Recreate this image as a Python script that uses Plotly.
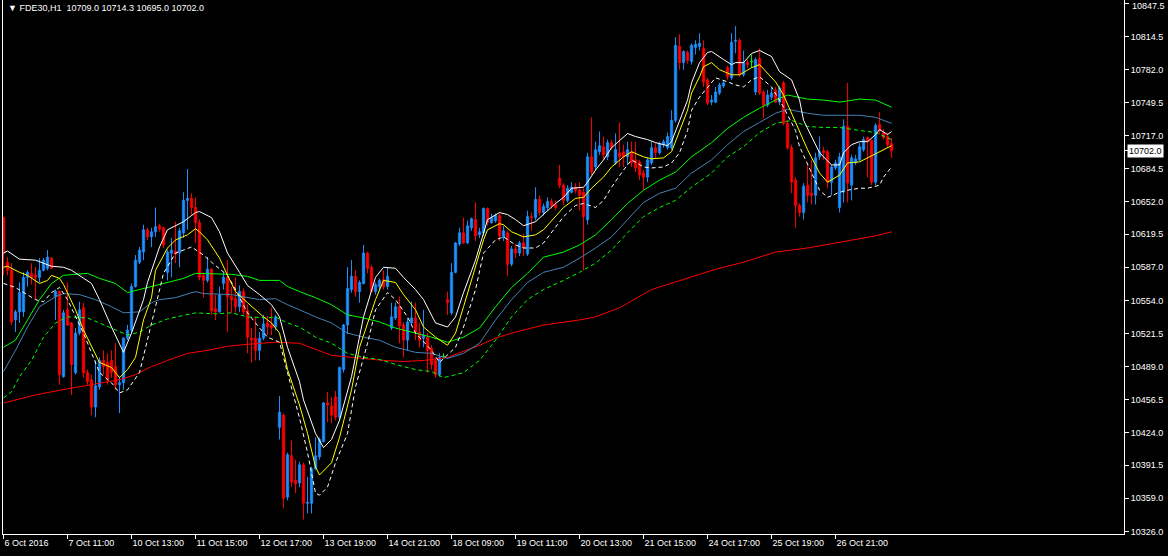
import plotly.graph_objects as go

SYMBOL = "FDE30,H1"
LAST_BAR_TEXT = "10709.0 10714.3 10695.0 10702.0"
LAST_PRICE = 10702.0

TICK_BARS = [0, 16, 32, 48, 64, 80, 96, 112, 128, 144, 160, 176, 192, 208]
TIME_LABELS = ["6 Oct 2016", "7 Oct 11:00", "10 Oct 13:00", "11 Oct 15:00", "12 Oct 17:00",
               "13 Oct 19:00", "14 Oct 21:00", "18 Oct 09:00", "19 Oct 11:00", "20 Oct 13:00",
               "21 Oct 15:00", "24 Oct 17:00", "25 Oct 19:00", "26 Oct 21:00"]
PRICE_TICKS = [10326.0, 10359.0, 10391.5, 10424.0, 10456.5, 10489.0, 10521.5, 10554.0, 10587.0,
               10619.5, 10652.0, 10684.5, 10717.0, 10749.5, 10782.0, 10814.5, 10847.5]

OPEN = [10636,10592,10584,10535,10543,10543,10577,10581,10579,10577,
        10584,10586,10596,10558,10563,10479,10545,10532,10483,10522,
        10547,10483,10476,10449,10469,10495,10493,10495,10489,10471,
        10473,10517,10525,10568,10592,10602,10624,10617,10622,10628,
        10626,10582,10601,10603,10601,10621,10653,10655,10646,10631,
        10579,10574,10585,10546,10543,10571,10577,10558,10556,10548,
        10563,10544,10517,10517,10505,10517,10532,10530,10528,10429,
        10441,10360,10401,10377,10374,10392,10354,10354,10388,10400,
        10415,10453,10450,10459,10439,10486,10530,10565,10578,10563,
        10571,10601,10587,10563,10568,10575,10568,10527,10537,10548,
        10530,10515,10532,10537,10523,10517,10518,10507,10495,10481,
        10499,10555,10542,10582,10610,10621,10611,10626,10634,10619,
        10621,10645,10631,10633,10638,10616,10621,10590,10605,10601,
        10611,10600,10637,10636,10654,10641,10646,10652,10649,10675,
        10668,10653,10661,10666,10663,10661,10634,10696,10686,10701,
        10706,10696,10710,10690,10700,10701,10696,10701,10693,10691,
        10680,10676,10690,10705,10700,10708,10705,10705,10732,10805,
        10789,10799,10790,10804,10805,10803,10772,10750,10750,10759,
        10766,10784,10774,10810,10811,10777,10789,10790,10760,10793,
        10760,10747,10755,10762,10750,10769,10729,10705,10673,10648,
        10641,10668,10660,10658,10696,10702,10701,10671,10685,10646,
        10661,10726,10668,10690,10693,10703,10715,10712,10671,10728,
        10720,10716,10709.0]

HIGH = [10637,10597,10591,10545,10572,10582,10584,10591,10587,10596,
        10596,10604,10597,10565,10564,10545,10572,10533,10527,10553,
        10552,10486,10481,10495,10498,10505,10502,10505,10512,10479,
        10518,10530,10571,10599,10607,10629,10626,10626,10646,10630,
        10627,10604,10616,10632,10626,10661,10684,10660,10656,10634,
        10582,10597,10586,10560,10568,10582,10594,10568,10577,10569,
        10566,10550,10527,10538,10523,10540,10539,10547,10540,10460,
        10443,10404,10416,10397,10395,10394,10380,10390,10419,10419,
        10454,10464,10459,10465,10489,10531,10587,10594,10584,10574,
        10609,10602,10589,10572,10576,10584,10587,10552,10552,10558,
        10533,10537,10553,10552,10532,10545,10522,10510,10498,10502,
        10502,10563,10591,10612,10626,10636,10633,10636,10651,10626,
        10646,10646,10640,10640,10640,10628,10623,10608,10610,10613,
        10620,10643,10641,10666,10658,10650,10656,10655,10653,10688,
        10670,10668,10671,10670,10671,10665,10700,10735,10711,10721,
        10716,10713,10713,10719,10730,10708,10711,10711,10711,10693,
        10683,10695,10711,10710,10711,10713,10720,10742,10814,10817,
        10801,10801,10808,10811,10818,10811,10774,10757,10765,10769,
        10772,10786,10818,10825,10813,10801,10792,10797,10794,10803,
        10762,10762,10764,10765,10766,10771,10732,10708,10676,10650,
        10670,10688,10693,10700,10716,10706,10703,10688,10693,10700,
        10733,10769,10698,10698,10710,10716,10716,10713,10729,10740,
        10723,10720,10714.3]

LOW = [10579,10579,10530,10523,10532,10538,10568,10570,10555,10572,
       10583,10584,10585,10535,10471,10478,10529,10461,10481,10520,
       10478,10471,10441,10439,10466,10481,10471,10478,10466,10443,
       10466,10515,10522,10567,10590,10594,10614,10607,10617,10622,
       10606,10574,10577,10591,10587,10616,10624,10639,10611,10574,
       10557,10572,10540,10535,10542,10565,10523,10542,10542,10543,
       10540,10502,10493,10495,10495,10515,10520,10520,10525,10417,
       10349,10357,10370,10364,10370,10338,10344,10344,10387,10397,
       10414,10434,10433,10436,10436,10483,10521,10562,10558,10552,
       10570,10581,10562,10560,10565,10565,10565,10525,10535,10512,
       10498,10505,10531,10515,10508,10508,10483,10486,10478,10479,
       10497,10540,10540,10581,10608,10610,10610,10623,10613,10616,
       10618,10628,10630,10631,10613,10613,10578,10588,10596,10598,
       10598,10598,10623,10633,10638,10638,10643,10645,10643,10665,
       10648,10651,10660,10660,10643,10584,10629,10678,10683,10698,
       10693,10693,10703,10688,10686,10686,10688,10686,10681,10673,
       10663,10671,10688,10695,10698,10705,10703,10703,10730,10782,
       10782,10788,10787,10797,10801,10765,10747,10747,10749,10757,
       10764,10772,10772,10798,10775,10775,10784,10784,10757,10757,
       10734,10745,10752,10749,10747,10727,10703,10660,10626,10637,
       10634,10651,10649,10649,10693,10693,10665,10658,10683,10641,
       10651,10651,10653,10688,10691,10701,10676,10668,10668,10718,
       10713,10705,10695.0]

CLOSE = [10601,10584,10533,10543,10562,10577,10582,10577,10577,10584,
         10594,10597,10586,10563,10481,10542,10530,10491,10522,10545,
         10483,10474,10449,10470,10495,10489,10476,10483,10471,10473,
         10517,10525,10568,10594,10604,10624,10617,10622,10627,10625,
         10609,10602,10604,10600,10623,10653,10655,10646,10631,10577,
         10574,10585,10544,10543,10560,10577,10558,10555,10548,10563,
         10543,10518,10515,10505,10517,10531,10528,10527,10538,10444,
         10359,10402,10375,10373,10392,10354,10355,10388,10401,10417,
         10453,10451,10441,10439,10488,10530,10566,10578,10563,10572,
         10601,10586,10563,10570,10574,10568,10578,10538,10548,10529,
         10515,10533,10537,10523,10515,10520,10505,10491,10481,10498,
         10499,10552,10582,10611,10621,10611,10628,10635,10618,10622,
         10645,10631,10636,10638,10618,10623,10590,10605,10601,10611,
         10606,10637,10636,10654,10641,10647,10652,10648,10646,10668,
         10653,10665,10666,10663,10658,10637,10696,10681,10703,10707,
         10698,10710,10705,10703,10696,10696,10703,10690,10685,10678,
         10676,10693,10705,10700,10709,10711,10716,10732,10806,10789,
         10800,10791,10806,10807,10808,10770,10749,10752,10760,10767,
         10769,10775,10809,10811,10777,10789,10787,10790,10792,10759,
         10747,10757,10759,10750,10764,10729,10705,10671,10648,10641,
         10667,10658,10658,10695,10701,10700,10671,10686,10690,10696,
         10726,10670,10695,10694,10706,10713,10711,10671,10727,10722,
         10715,10708,10702.0]

# indicator lines: (bar index, price)
YELLOW_MA = [(0,10587),(1,10588),(4,10582),(6,10579),(9,10571),(11,10574),(12,10579),(14,10576),(15,10570),(16,10562),
             (18,10545),(20,10525),(23,10502),(24,10493),(27,10488),(29,10478),(31,10486),(33,10498),(35,10535),(37,10557),
             (38,10584),(41,10606),(43,10614),(46,10619),(48,10625),(49,10622),(51,10614),(54,10596),(56,10579),(58,10563),
             (61,10552),(65,10538),(67,10532),(69,10522),(71,10486),(74,10451),(76,10423),(78,10390),(79,10382),(82,10394),
             (84,10419),(87,10466),(89,10508),(93,10555),(95,10574),(98,10572),(100,10560),(103,10545),(105,10528),(108,10518),
             (111,10510),(113,10522),(115,10548),(118,10587),(120,10614),(121,10624),(124,10630),(125,10629),(127,10622),(130,10617),
             (133,10619),(135,10624),(138,10637),(140,10646),(143,10655),(145,10656),(147,10665),(150,10676),(152,10686),(155,10696),
             (157,10701),(160,10696),(162,10694),(165,10695),(167,10701),(169,10722),(171,10742),(172,10759),(174,10775),(175,10785),
             (177,10789),(179,10782),(182,10777),(184,10777),(187,10784),(189,10787),(191,10779),(193,10770),(195,10757),(197,10739),
             (199,10720),(201,10703),(204,10680),(206,10671),(209,10678),(211,10690),(214,10691),(216,10695),(219,10701),(220,10703),
             (222,10707)]

WHITE_UPPER = [(0,10601),(1,10603),(4,10595),(8,10594),(12,10588),(15,10587),(17,10584),(19,10579),(22,10571),(24,10555),
               (27,10528),(30,10503),(32,10522),(35,10555),(36,10572),(39,10607),(41,10624),(45,10632),(48,10641),(49,10642),
               (52,10636),(54,10622),(56,10601),(59,10582),(61,10569),(64,10560),(67,10550),(69,10538),(71,10508),(74,10474),
               (75,10456),(78,10423),(80,10409),(82,10417),(84,10436),(87,10479),(90,10538),(93,10577),(95,10587),(98,10586),
               (100,10577),(103,10565),(105,10555),(108,10532),(111,10528),(113,10538),(115,10562),(118,10594),(120,10621),(121,10634),
               (124,10641),(126,10639),(128,10634),(130,10628),(133,10632),(135,10639),(138,10650),(140,10656),(142,10665),(145,10666),
               (146,10671),(148,10683),(150,10693),(152,10705),(155,10716),(156,10719),(158,10716),(161,10713),(163,10710),(166,10707),
               (167,10711),(169,10732),(171,10752),(172,10769),(174,10789),(176,10799),(177,10800),(180,10792),(182,10787),(183,10789),
               (185,10789),(187,10798),(189,10801),(192,10795),(194,10780),(197,10772),(199,10752),(200,10732),(202,10716),(204,10700),
               (207,10688),(209,10688),(210,10700),(212,10708),(214,10711),(216,10711),(218,10718),(219,10723),(221,10718),(222,10721)]

WHITE_LOWER = [(0,10571),(3,10567),(8,10555),(10,10553),(12,10562),(14,10567),(16,10555),(20,10522),(24,10483),(27,10473),
               (29,10463),(31,10466),(34,10483),(36,10515),(37,10529),(38,10548),(40,10581),(43,10601),(47,10607),(50,10599),
               (52,10592),(56,10579),(58,10565),(61,10542),(64,10527),(66,10518),(69,10513),(71,10483),(74,10438),(76,10404),
               (78,10364),(79,10362),(81,10370),(83,10394),(86,10423),(88,10469),(91,10512),(93,10545),(96,10562),(98,10555),
               (101,10538),(103,10522),(107,10505),(109,10493),(110,10497),(113,10508),(115,10528),(118,10565),(120,10601),(123,10614),
               (125,10617),(128,10609),(130,10606),(133,10606),(135,10611),(138,10627),(140,10637),(143,10648),(145,10650),(148,10646),
               (150,10653),(152,10666),(155,10683),(157,10693),(160,10686),(162,10685),(165,10686),(167,10690),(169,10700),(171,10722),
               (172,10742),(174,10755),(176,10765),(178,10774),(181,10770),(183,10767),(185,10765),(187,10772),(189,10775),(192,10765),
               (195,10745),(198,10722),(199,10706),(202,10680),(204,10663),(206,10656),(209,10661),(211,10663),(214,10665),(216,10665),
               (219,10668),(220,10676),(222,10686)]

GREEN_UPPER = [(0,10508),(3,10515),(6,10535),(9,10555),(12,10571),(15,10579),(21,10581),(24,10576),(28,10571),(31,10562),
               (34,10565),(37,10568),(41,10572),(45,10576),(48,10581),(57,10580),(61,10578),(64,10574),(69,10574),(71,10568),
               (74,10563),(78,10557),(82,10550),(86,10540),(90,10537),(94,10533),(98,10527),(103,10522),(107,10518),(111,10513),
               (115,10518),(119,10527),(123,10548),(127,10567),(131,10581),(135,10597),(140,10602),(144,10609),(148,10619),(152,10634),
               (156,10650),(160,10663),(164,10673),(168,10681),(172,10696),(177,10710),(181,10724),(185,10735),(189,10744),(193,10752),
               (196,10757),(201,10753),(205,10752),(209,10750),(214,10753),(218,10752),(222,10745)]

BLUE_MID = [(0,10484),(3,10505),(6,10528),(9,10548),(13,10558),(15,10561),(19,10560),(23,10555),(27,10548),(30,10542),
            (34,10543),(37,10552),(39,10555),(43,10557),(48,10563),(50,10561),(57,10560),(64,10555),(68,10556),(71,10550),
            (74,10545),(78,10538),(82,10532),(86,10522),(90,10518),(94,10515),(98,10508),(103,10503),(107,10502),(111,10497),
            (115,10502),(119,10512),(123,10535),(127,10555),(131,10572),(135,10582),(140,10587),(144,10596),(148,10606),(152,10617),
            (156,10634),(160,10651),(164,10660),(168,10665),(172,10680),(177,10693),(181,10708),(185,10721),(189,10730),(193,10739),
            (196,10743),(201,10739),(205,10737),(209,10737),(214,10737),(218,10735),(222,10729)]

GREEN_LOWER = [(0,10458),(2,10464),(4,10479),(7,10495),(10,10518),(13,10532),(16,10538),(21,10537),(24,10532),(29,10523),
               (31,10520),(34,10523),(37,10530),(41,10536),(45,10539),(48,10542),(53,10541),(57,10542),(61,10538),(66,10537),
               (68,10538),(71,10532),(74,10528),(78,10518),(82,10512),(86,10502),(90,10498),(94,10496),(98,10491),(103,10486),
               (107,10484),(110,10478),(115,10483),(119,10495),(123,10515),(127,10538),(131,10555),(135,10565),(140,10574),(144,10582),
               (148,10591),(152,10604),(156,10621),(160,10637),(164,10646),(168,10653),(172,10666),(177,10680),(181,10696),(185,10706),
               (189,10720),(193,10729),(197,10732),(201,10726),(205,10725),(209,10725),(214,10722),(218,10720),(222,10713)]

RED_MA = [(0,10453),(8,10461),(16,10467),(22,10471),(29,10476),(33,10481),(37,10489),(41,10495),(46,10502),(51,10505),
          (56,10509),(61,10511),(68,10513),(74,10512),(82,10500),(90,10497),(95,10495),(100,10494),(105,10495),(111,10498),
          (119,10510),(123,10517),(127,10522),(135,10530),(144,10535),(148,10538),(154,10547),(162,10565),(169,10574),(178,10585),
          (185,10592),(193,10602),(201,10606),(209,10612),(218,10618),(222,10622)]

BULL = "#1E90FF"
BEAR = "#FF0000"
DOJI = "#00FF00"
FONT = "Liberation Sans, Arial, DejaVu Sans, sans-serif"

n = len(OPEN)
bars = list(range(n))
fig = go.Figure()

def wicks(sel, color):
    xs, ys = [], []
    for i in sel:
        xs += [i, i, None]
        ys += [LOW[i], HIGH[i], None]
    return go.Scatter(x=xs, y=ys, mode="lines", line=dict(color=color, width=1),
                      hoverinfo="skip", showlegend=False)

bull = [i for i in bars if CLOSE[i] > OPEN[i]]
bear = [i for i in bars if CLOSE[i] < OPEN[i]]
doji = [i for i in bars if CLOSE[i] == OPEN[i]]

fig.add_trace(wicks(bull, BULL))
fig.add_trace(wicks(bear, BEAR))
fig.add_trace(wicks(doji, DOJI))

body_idx = bull + bear
colors = [BULL if CLOSE[i] > OPEN[i] else BEAR for i in body_idx]
fig.add_trace(go.Bar(
    x=body_idx,
    y=[abs(CLOSE[i] - OPEN[i]) for i in body_idx],
    base=[min(OPEN[i], CLOSE[i]) for i in body_idx],
    width=0.62,
    marker=dict(color=colors, line=dict(color=colors, width=0.6)),
    hoverinfo="skip", showlegend=False))

dx, dy = [], []
for i in doji:
    dx += [i - 0.4, i + 0.4, None]
    dy += [OPEN[i], OPEN[i], None]
fig.add_trace(go.Scatter(x=dx, y=dy, mode="lines", line=dict(color=DOJI, width=1),
                         hoverinfo="skip", showlegend=False))

def add_line(pairs, color, dash="solid"):
    fig.add_trace(go.Scatter(x=[p[0] for p in pairs], y=[p[1] for p in pairs], mode="lines",
                             line=dict(color=color, width=1, dash=dash),
                             hoverinfo="skip", showlegend=False))

add_line(RED_MA, "#FF0000")
add_line(GREEN_LOWER, "#00FF00", "4px,3px")
add_line(BLUE_MID, "#4682B4")
add_line(GREEN_UPPER, "#00FF00")
add_line(WHITE_LOWER, "#FFFFFF", "4px,3px")
add_line(WHITE_UPPER, "#FFFFFF")
add_line(YELLOW_MA, "#FFFF00")

top_tick = PRICE_TICKS[-1]
fig.update_layout(
    width=1168, height=556,
    margin=dict(l=3, r=44, t=0, b=22, autoexpand=False),
    paper_bgcolor="#000000", plot_bgcolor="#000000",
    showlegend=False,
    font=dict(family=FONT, size=9, color="#FFFFFF"),
    xaxis=dict(range=[-0.125, 280.1], showgrid=False, zeroline=False, automargin=False,
               showline=True, linecolor="#FFFFFF", linewidth=1,
               ticks="outside", ticklen=4, tickcolor="#FFFFFF", tickwidth=1,
               tickvals=TICK_BARS, ticktext=TIME_LABELS,
               ticklabelposition="outside right",
               tickfont=dict(family=FONT, size=9, color="#FFFFFF"), fixedrange=True),
    yaxis=dict(range=[10323.7, 10850.8], side="right", showgrid=False, zeroline=False, automargin=False,
               showline=True, mirror=True, linecolor="#FFFFFF", linewidth=1,
               ticks="outside", ticklen=4, tickcolor="#FFFFFF", tickwidth=1,
               tickvals=PRICE_TICKS + [LAST_PRICE],
               ticktext=["%.1f" % v for v in PRICE_TICKS[:-1]] + [""] + ["%.1f" % LAST_PRICE],
               tickfont=dict(family=FONT, size=9, color="#FFFFFF"), fixedrange=True),
)

# top price label, kept just inside the top edge
fig.add_annotation(xref="paper", yref="paper", x=1, y=1, xanchor="left", yanchor="top",
                   xshift=6, yshift=1, showarrow=False, text="%.1f" % top_tick,
                   font=dict(family=FONT, size=9, color="#FFFFFF"))

fig.add_annotation(xref="paper", yref="paper", x=0, y=1, xanchor="left", yanchor="top",
                   xshift=3, yshift=-1, showarrow=False,
                   text="\u25BC " + SYMBOL + "\u00a0\u00a0" + LAST_BAR_TEXT,
                   font=dict(family=FONT, size=9, color="#FFFFFF"))
fig.add_annotation(xref="paper", yref="y", x=1, y=LAST_PRICE, xanchor="left", yanchor="middle",
                   xshift=3, showarrow=False, text="%.1f" % LAST_PRICE,
                   bgcolor="#FFFFFF", borderpad=1,
                   font=dict(family=FONT, size=9, color="#000000"))

fig.write_html("out.html", config={"displayModeBar": False})

# remove the default page margin so the figure fills the browser window exactly
with open("out.html", "r", encoding="utf-8") as fh:
    page = fh.read()
page = page.replace("<head>", "<head><style>html,body{margin:0;padding:0;overflow:hidden;background:#000;}</style>", 1)
with open("out.html", "w", encoding="utf-8") as fh:
    fh.write(page)
